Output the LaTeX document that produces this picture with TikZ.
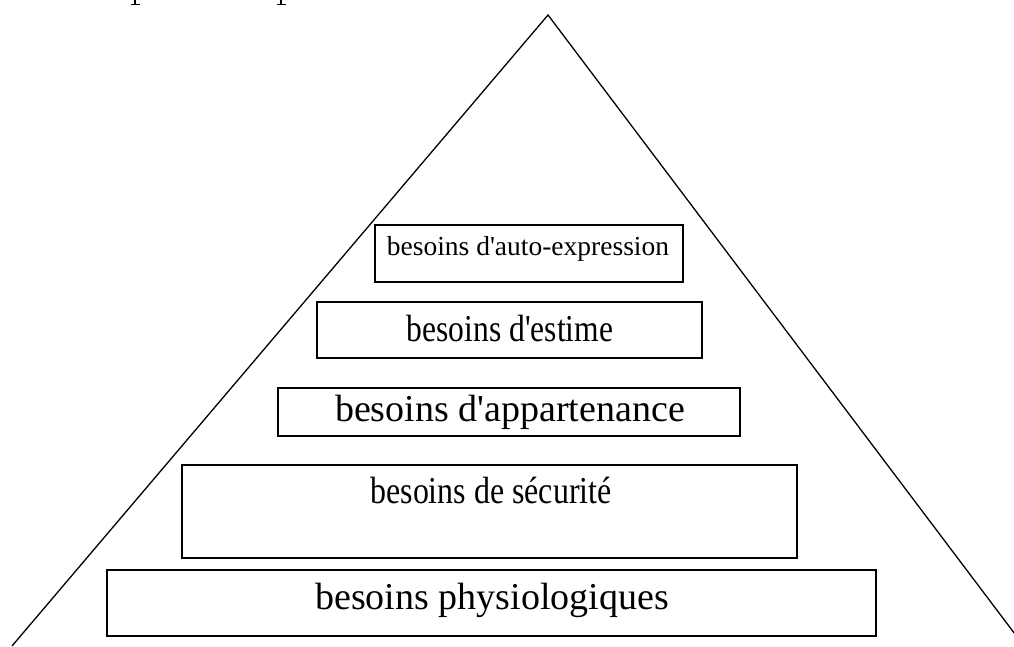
\documentclass[tikz,border=0pt]{standalone}
\usepackage{fontspec}
\newfontfamily\tnr{Liberation Serif}[Ligatures=ResetAll]
\begin{document}
\begin{tikzpicture}[x=1pt,y=-1pt,
  boxst/.style={draw=black, line width=2pt, inner sep=0pt, fill=none},
  txt/.style={inner sep=0pt, font=\tnr\fontsize{38}{43}\selectfont},
  smalltxt/.style={inner sep=0pt, font=\tnr\fontsize{27.5}{32}\selectfont},
  leg/.style={draw=black, line width=1.3pt}]
\useasboundingbox (0,0) rectangle (1014,646);
\fill[white] (0,0) rectangle (1014,646);
% cropped descenders of text above the frame
\draw[line width=1.6pt] (135,0) -- (135,4.5);
\draw[line width=1.2pt] (131,4.5) -- (140,4.5);
\draw[line width=1.6pt] (281,0) -- (281,4.5);
\draw[line width=1.2pt] (277,4.5) -- (286,4.5);
% triangle
\coordinate (apex) at (548,15);
\coordinate (bl) at (12,646);
\coordinate (br) at (1030,654);
\begin{scope}
\clip (0,0) rectangle (1014,646);
\draw[leg] (bl) -- (apex) -- (br);
\end{scope}
% boxes
\node[boxst, minimum width=308pt, minimum height=57pt] (b1) at (529,253.5) {};
\node[boxst, minimum width=385pt, minimum height=56pt] (b2) at (509.5,330) {};
\node[boxst, minimum width=462pt, minimum height=48pt] (b3) at (509,412) {};
\node[boxst, minimum width=615pt, minimum height=93pt] (b4) at (489.5,511.5) {};
\node[boxst, minimum width=769pt, minimum height=66pt] (b5) at (491.5,603) {};
% labels
\node[smalltxt] (t1) at (528,249) {besoins d'auto-expression};
\node[txt] (t2) at (510,328) {\scalebox{0.83}[1]{besoins d'estime}};
\node[txt] (t3) at (510,412) {besoins d'appartenance};
\node[txt] (t4) at (491,490) {\scalebox{0.84}[1]{besoins de sécurité}};
\node[txt] (t5) at (492,600) {besoins physiologiques};
\end{tikzpicture}
\end{document}
